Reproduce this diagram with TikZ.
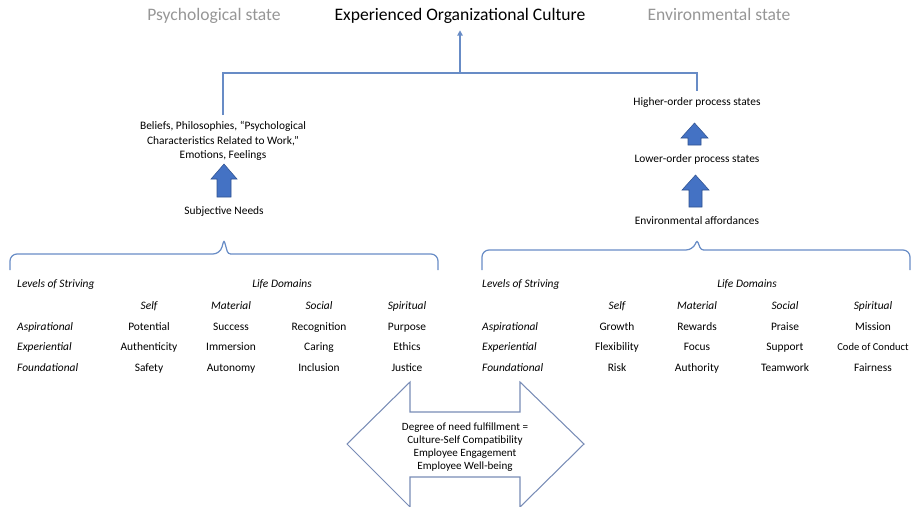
\documentclass[tikz,border=0pt]{standalone}
\usepackage{fontspec}
\setmainfont{Carlito}
\usepackage{tikz}
\usetikzlibrary{arrows.meta}

\definecolor{linkblue}{RGB}{104,140,198}
\definecolor{fillblue}{RGB}{68,114,196}
\definecolor{edgeblue}{RGB}{47,82,143}
\definecolor{stategray}{RGB}{150,150,150}
\definecolor{dualblue}{RGB}{120,140,182}

\begin{document}
\begin{tikzpicture}[x=0.02cm, y=-0.02cm, font=\fontsize{6.5}{8}\selectfont,
    link/.style={draw=linkblue, line width=0.7pt},
    lift/.style={fill=fillblue, draw=edgeblue, line width=0.3pt},
    title/.style={font=\fontsize{10}{12}\selectfont, text height=7pt, text depth=2.2pt},
    cell/.style={text height=4.7pt, text depth=1.4pt},
    lvl/.style={cell, font=\fontsize{6.5}{8}\selectfont\itshape, anchor=west},
    dom/.style={cell, font=\fontsize{6.5}{8}\selectfont\itshape}]
      \useasboundingbox (0,0) rectangle (913,507);
      % heading row
      \node[title] (culture) at (460,16) {Experienced Organizational Culture};
      \node[title, text=stategray] (psych) at (214,16) {Psychological state};
      \node[title, text=stategray] (envir) at (719,16) {Environmental state};
      % psychological side
      \node[align=center, font=\fontsize{6.5}{8.3}\selectfont] (beliefs) at (223,141) {Beliefs, Philosophies, “Psychological\\Characteristics Related to Work,”\\Emotions, Feelings};
      \node[cell] (needs) at (224,212) {Subjective Needs};
      \draw[lift] (217,197) -- (231,197) -- (231,179) -- (237,179) -- (224,164) -- (211,179) -- (217,179) -- cycle;
      % environmental side
      \node[cell] (higher) at (697,103) {Higher-order process states};
      \node[cell] (lower) at (697,160) {Lower-order process states};
      \node[cell] (afford) at (697,222) {Environmental affordances};
      \draw[lift] (688,145) -- (701,145) -- (701,138) -- (708,138) -- (694.5,123) -- (681,138) -- (688,138) -- cycle;
      \draw[lift] (689,207) -- (702,207) -- (702,190) -- (709,190) -- (695.5,175) -- (682,190) -- (689,190) -- cycle;
      % both sides join into the culture
      \coordinate (hub) at (460,73);
      \draw[link] (beliefs.north) |- (hub) -| (higher.north);
      \draw[link, -{Triangle[length=3pt, width=3pt]}] (hub) -- (culture.south);
      % braces over the two tables
      \draw[link] (10,270) [rounded corners=4pt] -- (10,254) -- (220,254) [rounded corners=1.5pt] -- (224,240) -- (228,254) [rounded corners=4pt] -- (438,254) -- (438,270);
      \draw[link] (482,270) [rounded corners=4pt] -- (482,250) -- (693,250) [rounded corners=1.5pt] -- (697,240) -- (701,250) [rounded corners=4pt] -- (910,250) -- (910,270);
      % needs table
      \node[lvl] (nlevels) at (11,285) {Levels of Striving};
      \node[dom] (ndomains) at (282,285) {Life Domains};
      \node[dom] (nself) at (149,307) {Self};
      \node[dom] (nmat) at (231,307) {Material};
      \node[dom] (nsoc) at (319,307) {Social};
      \node[dom] (nspi) at (407,307) {Spiritual};
      \node[lvl] (nasp) at (11,328) {Aspirational};
      \node[lvl] (nexp) at (11,348) {Experiential};
      \node[lvl] (nfou) at (11,369) {Foundational};
      \node[cell] (nasp1) at (149,328) {Potential};
      \node[cell] (nasp2) at (231,328) {Success};
      \node[cell] (nasp3) at (319,328) {Recognition};
      \node[cell] (nasp4) at (407,328) {Purpose};
      \node[cell] (nexp1) at (149,348) {Authenticity};
      \node[cell] (nexp2) at (231,348) {Immersion};
      \node[cell] (nexp3) at (319,348) {Caring};
      \node[cell] (nexp4) at (407,348) {Ethics};
      \node[cell] (nfou1) at (149,369) {Safety};
      \node[cell] (nfou2) at (231,369) {Autonomy};
      \node[cell] (nfou3) at (319,369) {Inclusion};
      \node[cell] (nfou4) at (407,369) {Justice};
      % affordances table
      \node[lvl] (alevels) at (476,285) {Levels of Striving};
      \node[dom] (adomains) at (747,285) {Life Domains};
      \node[dom] (aself) at (617,307) {Self};
      \node[dom] (amat) at (697,307) {Material};
      \node[dom] (asoc) at (785,307) {Social};
      \node[dom] (aspi) at (873,307) {Spiritual};
      \node[lvl] (aasp) at (476,328) {Aspirational};
      \node[lvl] (aexp) at (476,348) {Experiential};
      \node[lvl] (afou) at (476,369) {Foundational};
      \node[cell] (aasp1) at (617,328) {Growth};
      \node[cell] (aasp2) at (697,328) {Rewards};
      \node[cell] (aasp3) at (785,328) {Praise};
      \node[cell] (aasp4) at (873,328) {Mission};
      \node[cell] (aexp1) at (617,348) {Flexibility};
      \node[cell] (aexp2) at (697,348) {Focus};
      \node[cell] (aexp3) at (785,348) {Support};
      \node[cell, font=\fontsize{6}{8}\selectfont] (aexp4) at (873,348) {Code of Conduct};
      \node[cell] (afou1) at (617,369) {Risk};
      \node[cell] (afou2) at (697,369) {Authority};
      \node[cell] (afou3) at (785,369) {Teamwork};
      \node[cell] (afou4) at (873,369) {Fairness};
      % fulfilment double arrow
      \draw[draw=dualblue, line width=0.6pt, line join=miter] (347,444) -- (410,382) -- (410,412) -- (520,412) -- (520,382) -- (584,444) -- (520,507) -- (520,477) -- (410,477) -- (410,507) -- cycle;
      \node[align=center, font=\fontsize{6.3}{7.3}\selectfont] (fulfil) at (465,447) {Degree of need fulfillment =\\Culture-Self Compatibility\\Employee Engagement\\Employee Well-being};
\end{tikzpicture}
\end{document}
